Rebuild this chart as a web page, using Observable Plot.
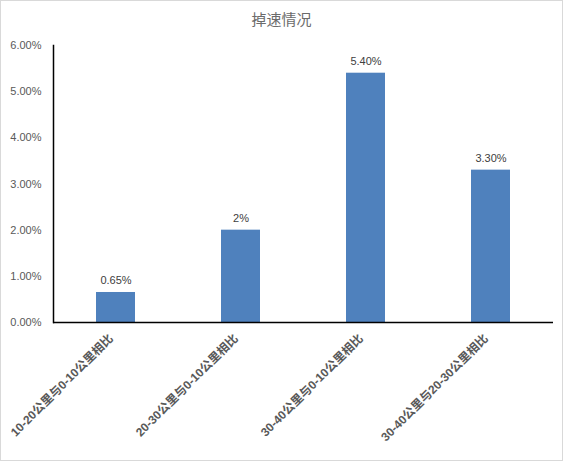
<!DOCTYPE html>
<html><head><meta charset="utf-8">
<script src="https://cdn.jsdelivr.net/npm/d3@7"></script>
<script src="https://cdn.jsdelivr.net/npm/@observablehq/plot@0.6"></script>
<style>
html,body{margin:0;padding:0;background:#fff;}
#wrap{width:561px;height:459px;border:1px solid #d9d9d9;position:relative;overflow:hidden;font-family:"Liberation Sans","Noto Sans CJK SC",sans-serif;}
#title{height:30px;line-height:36px;text-align:center;font-size:15px;color:#6b6b6b;font-family:"Noto Sans CJK SC",sans-serif;}
</style></head>
<body><div id="wrap"><div id="title">掉速情况</div><div id="chart"></div></div>
<script>
const categories = ["10-20公里与0-10公里相比","20-30公里与0-10公里相比","30-40公里与0-10公里相比","30-40公里与20-30公里相比"];
const values = [0.0065, 0.02, 0.054, 0.033];
const valueLabels = ["0.65%","2%","5.40%","3.30%"];
const yTicks = [0,0.01,0.02,0.03,0.04,0.05,0.06];

const data = categories.map((c,i)=>({cat:c, v:values[i], label:valueLabels[i]}));

const chart = Plot.plot({
  width: 561,
  height: 429,
  marginLeft: 52,
  marginRight: 9,
  marginTop: 14,
  marginBottom: 138,
  style: {fontFamily: '"Liberation Sans","Noto Sans CJK SC",sans-serif', background:"#fff"},
  x: {domain: categories, paddingInner: 0.69, paddingOuter: 0.345, label: null},
  y: {domain: [0,0.06], label: null},
  marks: [
    Plot.barY(data, {x:"cat", y:"v", fill:"#4F81BD"}),
    Plot.text(data, {x:"cat", y:"v", text:"label", dy:-12, fontSize:11, fill:"#404040"}),
    Plot.axisY({ticks: yTicks, tickFormat: d=>(d*100).toFixed(2)+"%", tickSize:0, tickPadding:12, fontSize:11, color:"#595959", label:null}),
    Plot.axisX({tickSize:0, tickPadding:14, dx:-5, tickRotate:-45, fontSize:12, fontWeight:"bold", color:"#595959", label:null}),
    Plot.frame({anchor:"left", stroke:"#000", strokeWidth:1.5}),
    Plot.ruleY([0], {stroke:"#000", strokeWidth:1.5})
  ]
});
document.getElementById("chart").appendChild(chart);
</script></body></html>
